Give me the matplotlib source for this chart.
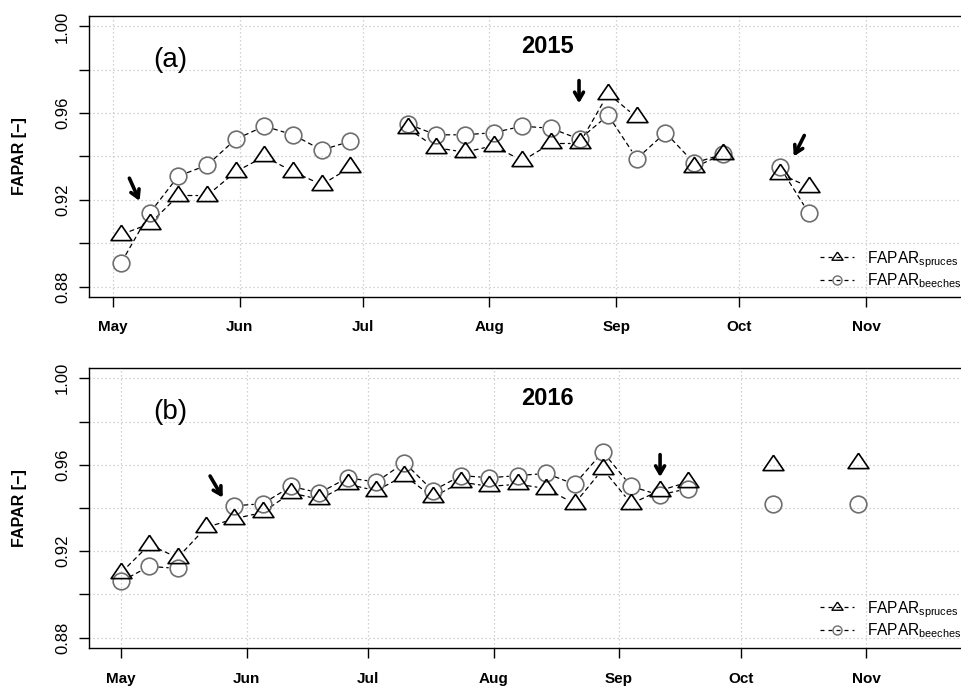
import numpy as np
import pandas as pd
import matplotlib
matplotlib.use("Agg")
import matplotlib.pyplot as plt
import matplotlib.dates as mdates
from matplotlib.lines import Line2D
from matplotlib.ticker import FixedLocator, FixedFormatter

plt.rcParams['font.family'] = ['Liberation Sans', 'DejaVu Sans']
plt.rcParams['mathtext.fontset'] = 'custom'
plt.rcParams['mathtext.rm'] = 'Liberation Sans'
plt.rcParams['mathtext.it'] = 'Liberation Sans:italic'
plt.rcParams['mathtext.bf'] = 'Liberation Sans:bold'

nan = np.nan

# ---- 2015 weekly FAPAR ----
dates_2015 = pd.date_range('2015-05-03', '2015-10-18', freq='7D')
spruces_2015 = [0.904, 0.909, 0.922, 0.922, 0.933, 0.940, 0.933, 0.927, 0.935,
                nan, 0.953, 0.944, 0.942, 0.945, 0.938, 0.946, 0.946, 0.969,
                0.958, nan, 0.935, 0.941, nan, 0.932, 0.926]
beeches_2015 = [0.891, 0.914, 0.931, 0.936, 0.948, 0.954, 0.950, 0.943, 0.947,
                nan, 0.955, 0.950, 0.950, 0.951, 0.954, 0.953, 0.948, 0.959,
                0.939, 0.951, 0.937, 0.941, nan, 0.935, 0.914]

# ---- 2016 weekly FAPAR ----
dates_2016 = pd.date_range('2016-05-01', '2016-10-30', freq='7D')
spruces_2016 = [0.910, 0.923, 0.917, 0.931, 0.935, 0.938, 0.947, 0.944, 0.951,
                0.948, 0.955, 0.945, 0.952, 0.950, 0.951, 0.949, 0.942, 0.958,
                0.942, 0.948, 0.952, nan, nan, 0.960, nan, nan, 0.961]
beeches_2016 = [0.906, 0.913, 0.912, nan, 0.941, 0.942, 0.950, 0.947, 0.954,
                0.952, 0.961, 0.948, 0.955, 0.954, 0.955, 0.956, 0.951, 0.966,
                0.950, 0.946, 0.949, nan, nan, 0.942, nan, nan, 0.942]

# arrows marking events: (tail date, tail value, tip date, tip value)
arrows_2015 = [('2015-05-05 00:00', 0.930, '2015-05-07 12:00', 0.9195),
               ('2015-08-22 21:00', 0.975, '2015-08-22 21:00', 0.9645),
               ('2015-10-16 22:00', 0.9497, '2015-10-14 08:00', 0.9400)]
arrows_2016 = [('2016-05-23 00:00', 0.9548, '2016-05-26 03:00', 0.9448),
               ('2016-09-11 03:00', 0.9647, '2016-09-11 03:00', 0.9543)]

year_labels = ['2015', '2016']
panel_labels = ['(a)', '(b)']
tick_months = [5, 6, 7, 8, 9, 10, 11]
y_ticks = [0.88, 0.90, 0.92, 0.94, 0.96, 0.98, 1.00]
y_ticklabels = ['0.88', '', '0.92', '', '0.96', '', '1.00']

W, H = 962, 688
fig = plt.figure(figsize=(W / 100, H / 100), dpi=100)

# triangle with its centroid on the data point
tri = [(0.0, 1.0), (-1.02, -0.5), (1.02, -0.5), (0.0, 1.0)]
circle_col = '#6e6e6e'
dash = (0, (3.2, 3.2))


def ax_box(left, top, right, bottom):
    return [left / W, 1 - bottom / H, (right - left) / W, (bottom - top) / H]


def connect(ax, d, v, color):
    x = mdates.date2num(d)
    for i in range(len(v) - 1):
        if np.isnan(v[i]) or np.isnan(v[i + 1]):
            continue
        ax.annotate('', xy=(x[i + 1], v[i + 1]), xytext=(x[i], v[i]),
                    arrowprops=dict(arrowstyle='-', shrinkA=6.8, shrinkB=6.8,
                                    lw=0.9, linestyle=dash, color=color),
                    zorder=2)


panels = [
    (ax_box(89, 16, 1005, 297), dates_2015, spruces_2015, beeches_2015,
     arrows_2015, ('2015-05-01', -5.86, 217.96), 249, 9.0),
    (ax_box(89, 368, 1005, 648), dates_2016, spruces_2016, beeches_2016,
     arrows_2016, ('2016-05-01', -7.90, 218.3), 599, 9.5),
]

for k, (box, d, spr, bee, arr, (x0, lo, hi), top_px, xpad) in enumerate(panels):
    ax = fig.add_axes(box)
    base = pd.Timestamp(x0)
    ax.set_xlim(mdates.date2num(base + pd.Timedelta(days=lo)),
                mdates.date2num(base + pd.Timedelta(days=hi)))
    ax.set_ylim(0.8752, 1.0048)

    ax.xaxis.set_major_locator(mdates.MonthLocator(bymonth=tick_months))
    ax.xaxis.set_major_formatter(mdates.DateFormatter('%b'))
    ax.yaxis.set_major_locator(FixedLocator(y_ticks))
    ax.yaxis.set_major_formatter(FixedFormatter(y_ticklabels))

    ax.grid(True, color='#c4c4c4', linestyle=(0, (1, 2.2)), lw=0.9)
    ax.set_axisbelow(True)

    ax.tick_params(axis='x', length=7.5, width=1.0, pad=xpad, labelsize=11)
    ax.tick_params(axis='y', length=7.5, width=1.0, pad=6, labelsize=12,
                   labelrotation=90)
    for lab in ax.get_xticklabels():
        lab.set_fontweight('bold')
    for lab in ax.get_yticklabels():
        lab.set_va('center')
    for s in ax.spines.values():
        s.set_linewidth(1.0)

    connect(ax, d, spr, 'black')
    connect(ax, d, bee, 'black')

    ax.plot(d, bee, linestyle='none', marker='o', ms=12, mfc='none',
            mec=circle_col, mew=1.2, zorder=3)
    ax.plot(d, spr, linestyle='none', marker=tri, ms=15, mfc='none',
            mec='black', mew=1.2, zorder=4)

    for t0, v0, t1, v1 in arr:
        ax.annotate('', xy=(mdates.date2num(pd.Timestamp(t1)), v1),
                    xytext=(mdates.date2num(pd.Timestamp(t0)), v0),
                    arrowprops=dict(arrowstyle='->,head_length=0.55,head_width=0.32',
                                    lw=2.6, color='black', shrinkA=0, shrinkB=0),
                    zorder=5)

    ax.text(0.0885, 0.843, panel_labels[k], transform=ax.transAxes,
            fontsize=20, ha='center', va='center')
    ax.text(0.5, 0.892, year_labels[k], transform=ax.transAxes,
            fontsize=17, fontweight='bold', ha='center', va='center')

    handles = [
        Line2D([], [], color='black', lw=0.9, linestyle=dash, marker=tri,
               ms=8, mfc='none', mec='black', mew=1.0),
        Line2D([], [], color='black', lw=0.9, linestyle=dash, marker='o',
               ms=6.5, mfc='none', mec=circle_col, mew=1.0),
    ]
    labels = [r'$\mathrm{FAPAR}_{\mathrm{spruces}}$',
              r'$\mathrm{FAPAR}_{\mathrm{beeches}}$']
    ax.legend(handles, labels, loc='upper left',
              bbox_to_anchor=(820 / W, 1 - top_px / H),
              bbox_transform=fig.transFigure, frameon=False, fontsize=11.2,
              borderpad=0, borderaxespad=0, handlelength=2.2,
              handletextpad=0.85, labelspacing=0.12)

    mid_px = H * (1 - box[1] - box[3] / 2)
    fig.text(20 / W, 1 - mid_px / H, 'FAPAR [\u2212]', rotation=90,
             fontsize=11.5, fontweight='bold', ha='center', va='center')

fig.savefig('out.png', dpi=100)
